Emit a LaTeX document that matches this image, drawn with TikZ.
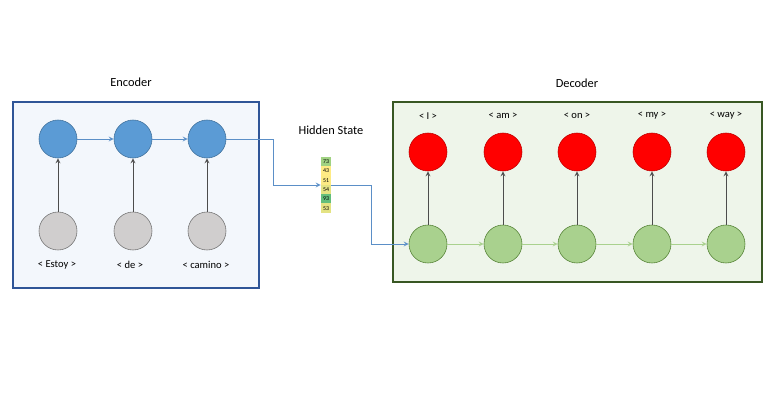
\documentclass[tikz,border=0pt]{standalone}
\usepackage{fontspec}
\setmainfont{Carlito}
\usepackage{xcolor}
\usetikzlibrary{arrows.meta, positioning}
\definecolor{encblue}{RGB}{47,85,151}
\definecolor{encfill}{RGB}{243,247,252}
\definecolor{decgreen}{RGB}{56,87,35}
\definecolor{decfill}{RGB}{238,245,234}
\definecolor{hidblue}{RGB}{91,155,213}
\definecolor{hidedge}{RGB}{65,113,156}
\definecolor{inpgray}{RGB}{208,206,206}
\definecolor{outred}{RGB}{255,0,0}
\definecolor{outedge}{RGB}{192,0,0}
\definecolor{decnode}{RGB}{169,209,142}
\definecolor{decedge}{RGB}{84,130,53}
\definecolor{linkblue}{RGB}{91,143,199}
\definecolor{hgreen}{RGB}{99,190,123}
\definecolor{hmid}{RGB}{160,210,130}
\definecolor{hyellow}{RGB}{255,235,132}
\definecolor{hlime}{RGB}{228,227,131}

\begin{document}
\begin{tikzpicture}[
    x=0.025cm, y=-0.025cm,
    box/.style={rectangle, draw, line width=1.2pt, anchor=north west},
    title/.style={font=\fontsize{8.8}{10}\selectfont},
    word/.style={font=\fontsize{7.5}{9}\selectfont},
    state/.style={circle, draw, minimum size=38*0.025cm, inner sep=0pt},
    cell/.style={rectangle, minimum width=10*0.025cm, minimum height=9.3*0.025cm, inner sep=0pt, font=\fontsize{4.2}{5}\selectfont},
    arrow/.style={->, >=stealth, color=black!70, line width=0.6pt},
    link/.style={->, >=stealth, color=linkblue, line width=0.6pt},
    glink/.style={->, >=stealth, color=decnode, line width=0.6pt}
]
\useasboundingbox (0,0) rectangle (770,408);

% Encoder
\node[box, draw=encblue, fill=encfill, minimum width=246*0.025cm, minimum height=186*0.025cm] (encoder) at (12,101) {};
\node[title] (enclabel) at (131,82) {Encoder};
\node[state, fill=hidblue, draw=hidedge] (e1) at (58,139) {};
\node[state, fill=hidblue, draw=hidedge] (e2) at (133,139) {};
\node[state, fill=hidblue, draw=hidedge] (e3) at (207,139) {};
\node[state, fill=inpgray, draw=black!55] (x1) at (58,231) {};
\node[state, fill=inpgray, draw=black!55] (x2) at (133,231) {};
\node[state, fill=inpgray, draw=black!55] (x3) at (207,231) {};
\node[word] (w1) at (57,265) {< Estoy >};
\node[word] (w2) at (130,265) {< de >};
\node[word] (w3) at (206,265) {< camino >};

\draw[arrow] (x1) -- (e1);
\draw[arrow] (x2) -- (e2);
\draw[arrow] (x3) -- (e3);
\draw[link] (e1) -- (e2);
\draw[link] (e2) -- (e3);

% Hidden state
\node[title] (hidlabel) at (331,130) {Hidden State};
\node[minimum width=10*0.025cm, minimum height=56*0.025cm, inner sep=0pt] (hidden) at (326,185) {};
\node[cell, fill=hmid] (h1) at (326,161.6) {73};
\node[cell, fill=hyellow] (h2) at (326,170.9) {43};
\node[cell, fill=hyellow!90!hlime] (h3) at (326,180.2) {51};
\node[cell, fill=hlime] (h4) at (326,189.5) {54};
\node[cell, fill=hgreen] (h5) at (326,198.8) {93};
\node[cell, fill=hlime] (h6) at (326,208.1) {53};

\draw[link] (e3.east) -- ++(47,0) |- (hidden.west);

% Decoder
\node[box, draw=decgreen, fill=decfill, minimum width=369*0.025cm, minimum height=180*0.025cm] (decoder) at (392,101) {};
\node[title] (declabel) at (577,83) {Decoder};
\node[state, fill=outred, draw=outedge] (y1) at (428,152) {};
\node[state, fill=outred, draw=outedge] (y2) at (503,152) {};
\node[state, fill=outred, draw=outedge] (y3) at (577,152) {};
\node[state, fill=outred, draw=outedge] (y4) at (652,152) {};
\node[state, fill=outred, draw=outedge] (y5) at (726,152) {};
\node[state, fill=decnode, draw=decedge] (d1) at (428,244) {};
\node[state, fill=decnode, draw=decedge] (d2) at (503,244) {};
\node[state, fill=decnode, draw=decedge] (d3) at (577,244) {};
\node[state, fill=decnode, draw=decedge] (d4) at (652,244) {};
\node[state, fill=decnode, draw=decedge] (d5) at (726,244) {};
\node[word] (o1) at (428,116) {< I >};
\node[word] (o2) at (503,116) {< am >};
\node[word] (o3) at (577,116) {< on >};
\node[word] (o4) at (652,116) {< my >};
\node[word] (o5) at (726,116) {< way >};

\draw[arrow] (d1) -- (y1);
\draw[arrow] (d2) -- (y2);
\draw[arrow] (d3) -- (y3);
\draw[arrow] (d4) -- (y4);
\draw[arrow] (d5) -- (y5);
\draw[glink] (d1) -- (d2);
\draw[glink] (d2) -- (d3);
\draw[glink] (d3) -- (d4);
\draw[glink] (d4) -- (d5);

\draw[link] (hidden.east) -- ++(40,0) |- (d1.west);

\end{tikzpicture}
\end{document}
